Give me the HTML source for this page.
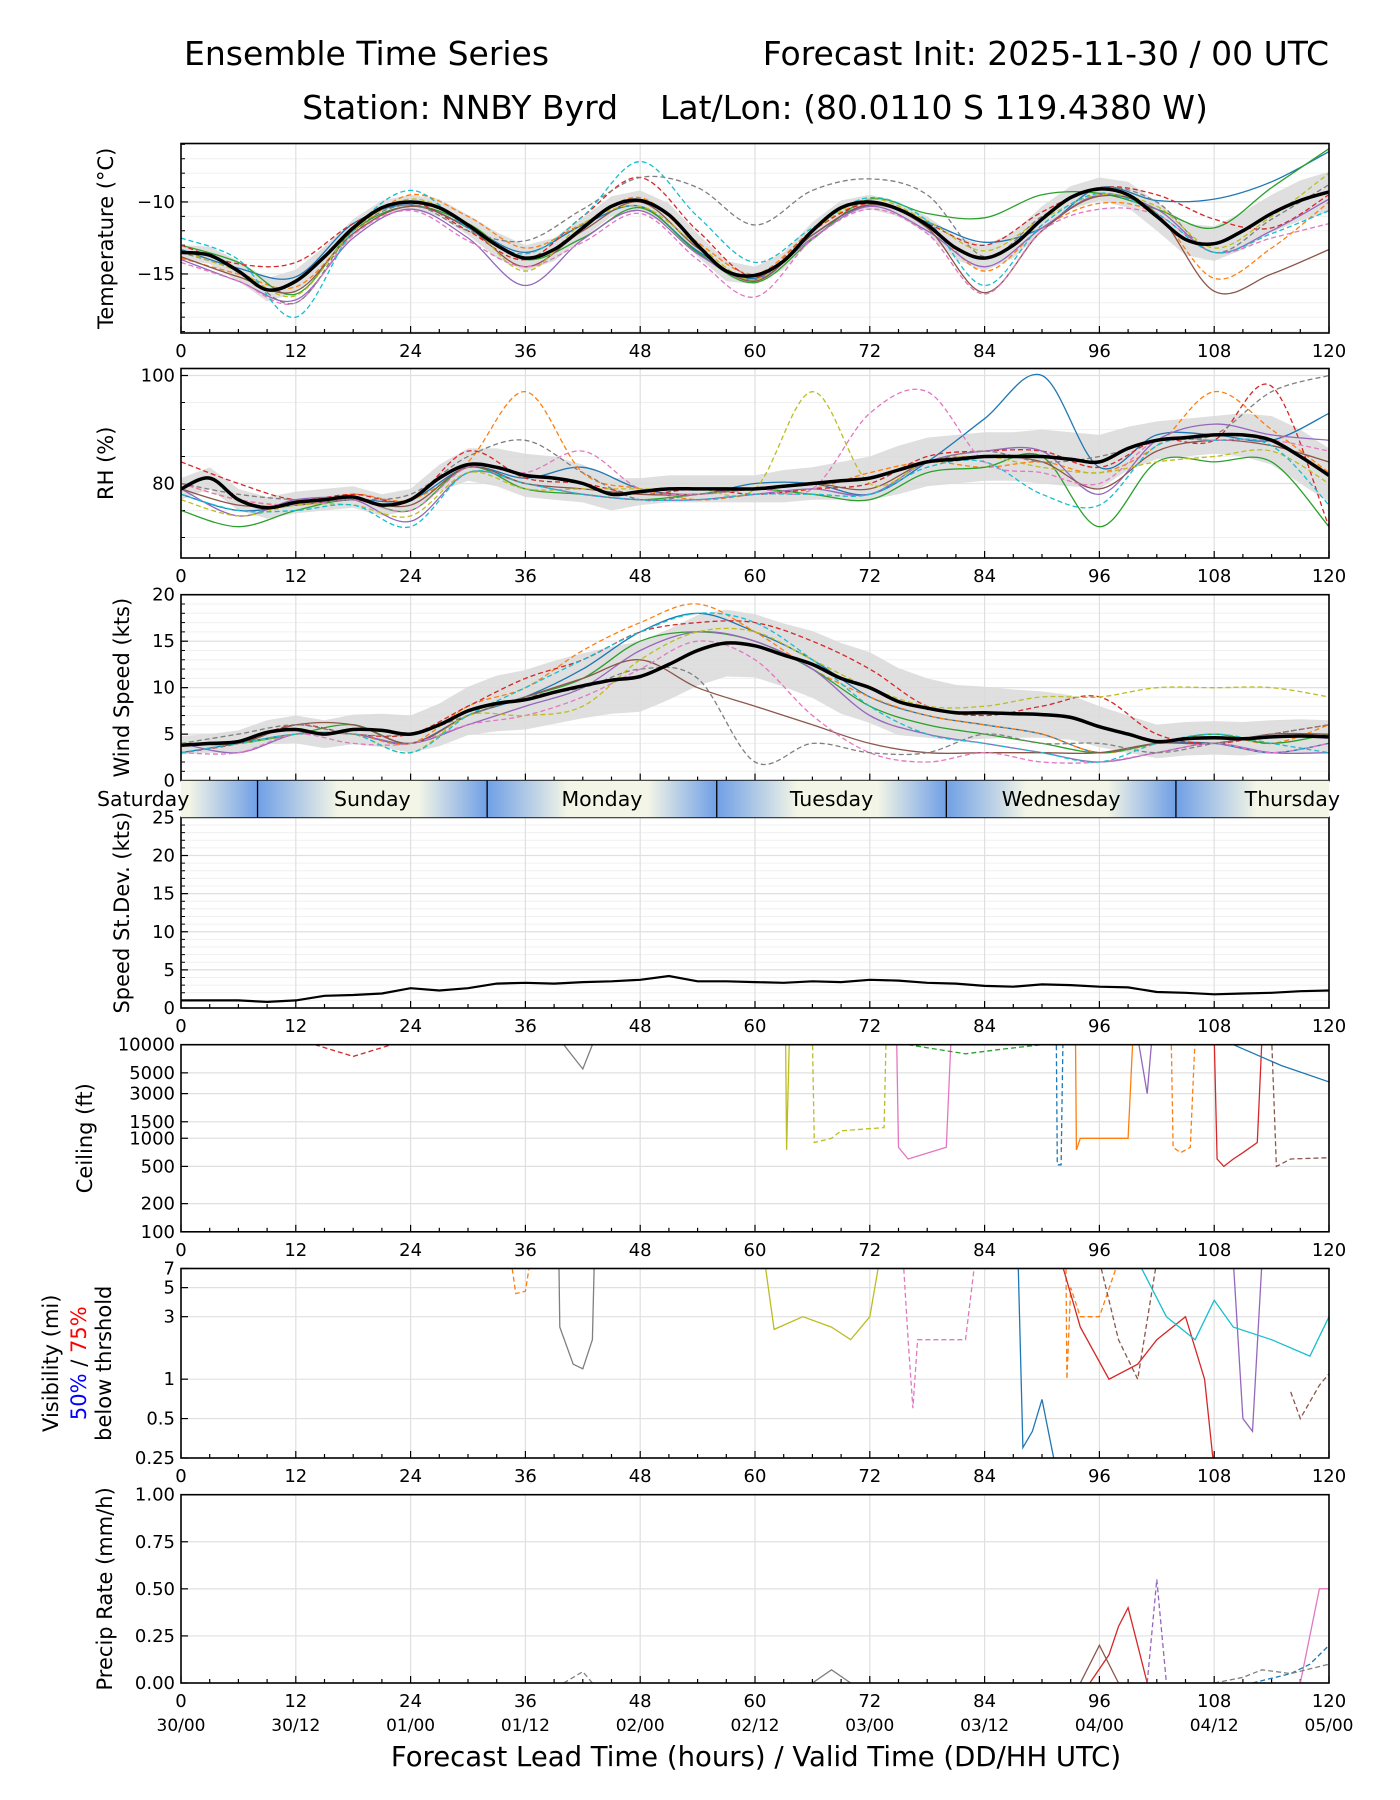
<!DOCTYPE html>
<html><head><meta charset="utf-8"><style>
html,body{margin:0;padding:0;background:#fff}
svg{display:block;font-family:"DejaVu Sans","Liberation Sans",sans-serif}
</style></head><body>
<svg id="c" width="1400" height="1800" viewBox="0 0 1400 1800">
<text x="184" y="65" font-size="33" text-anchor="start">Ensemble Time Series</text>
<text x="1329" y="65" font-size="33" text-anchor="end">Forecast Init: 2025-11-30 / 00 UTC</text>
<text x="755" y="119" font-size="33" text-anchor="middle">Station: NNBY Byrd &#160;&#160; Lat/Lon: (80.0110 S 119.4380 W)</text>
<text x="756" y="1766" font-size="27.5" text-anchor="middle">Forecast Lead Time (hours) / Valid Time (DD/HH UTC)</text>
</svg>
<script>
const hours3=[0,3,6,9,12,15,18,21,24,27,30,33,36,39,42,45,48,51,54,57,60,63,66,69,72,75,78,81,84,87,90,93,96,99,102,105,108,111,114,117,120];
const hours6=[0,6,12,18,24,30,36,42,48,54,60,66,72,78,84,90,96,102,108,114,120];
const tempMean=[-13.5,-13.7,-14.8,-16.1,-15.5,-13.8,-11.8,-10.4,-10.0,-10.4,-11.6,-13.0,-13.9,-13.3,-11.8,-10.3,-9.9,-10.9,-13.0,-14.8,-15.1,-14.1,-12.0,-10.4,-10.0,-10.5,-11.6,-13.2,-13.9,-13.0,-11.2,-9.7,-9.1,-9.5,-11.0,-12.6,-12.9,-12.0,-10.8,-9.9,-9.3];
const tempSpread=[0.5,0.6,0.7,0.8,0.8,0.7,0.6,0.5,0.5,0.6,0.7,0.9,0.9,0.8,0.7,0.7,0.7,0.8,0.8,0.7,0.6,0.6,0.6,0.5,0.5,0.5,0.6,0.8,0.9,0.9,0.9,0.8,0.8,0.9,1.0,1.1,1.2,1.3,1.3,1.4,1.4];
const tempMembers=[
[-13.3,-14.6,-15.2,-11.5,-10.2,-11.7,-13.5,-11.6,-10.3,-13.4,-15.3,-12.3,-10.2,-11.4,-12.8,-11.8,-9.0,-9.9,-9.8,-8.6,-6.5],
[-13.9,-15.0,-15.9,-12.2,-9.5,-11.0,-13.2,-11.5,-9.7,-12.8,-15.0,-12.0,-10.0,-11.5,-14.8,-11.8,-10.1,-10.9,-15.3,-13.2,-10.0],
[-13.0,-14.2,-16.4,-12.0,-10.3,-11.5,-14.0,-12.5,-10.4,-13.5,-15.6,-12.6,-9.8,-10.8,-11.1,-9.5,-9.4,-10.5,-11.8,-9.0,-6.3],
[-13.0,-14.3,-14.2,-11.5,-10.0,-12.0,-14.0,-11.0,-8.3,-12.0,-15.2,-12.0,-10.1,-11.5,-13.0,-10.7,-9.0,-9.5,-11.2,-11.8,-9.5],
[-14.0,-15.5,-16.8,-12.5,-10.5,-12.5,-15.8,-12.6,-10.6,-13.6,-15.4,-12.5,-10.3,-12.0,-14.5,-11.8,-9.5,-10.5,-13.5,-12.0,-9.8],
[-13.8,-15.2,-16.2,-12.2,-10.3,-11.8,-14.5,-12.0,-10.0,-13.2,-15.5,-12.3,-10.2,-11.8,-16.3,-12.0,-9.6,-10.8,-16.2,-15.0,-13.3],
[-14.2,-15.5,-17.0,-12.3,-10.6,-12.7,-14.5,-12.8,-10.8,-14.0,-16.6,-12.6,-10.5,-12.2,-16.4,-12.0,-10.5,-10.9,-13.5,-12.5,-11.5],
[-13.5,-14.8,-17.0,-12.0,-10.2,-12.0,-12.7,-10.5,-8.3,-9.0,-11.6,-9.2,-8.4,-9.5,-13.8,-11.0,-9.0,-10.0,-13.5,-11.2,-8.8],
[-13.4,-14.8,-16.5,-12.0,-9.8,-11.5,-14.8,-11.5,-10.3,-13.0,-15.4,-12.0,-9.8,-11.3,-13.4,-11.2,-9.5,-10.3,-13.2,-11.0,-8.0],
[-12.5,-14.0,-18.0,-12.0,-9.2,-11.8,-13.6,-11.0,-7.2,-11.0,-14.2,-11.8,-9.7,-11.3,-15.8,-11.6,-9.4,-10.8,-13.5,-12.2,-10.6]];
const rhMean=[79,81,77,75.5,76.5,77,77.5,76,77,81,83.5,83,81.5,81,80,78,78.5,79,79,79,79,79.5,80,80.5,81,82.5,84,84.5,85,85,85,84.5,84,86.5,88,88.5,89,89,88,85,81.5];
const rhSpread=[2,2,2,2,2,2,2,2,2,2.5,3,3.5,4,4,3.5,3,2.5,2.5,2.5,2.5,2.5,3,3,3.5,4,4.5,4.5,4.5,4.5,4.5,5,5,5,4,3.5,3.5,3.5,4,4.5,5,5];
const rhMembers=[
[78,75,76,77,77,83,81,83,79,78,80,80,78,84,92,100,83,89,89,88,93],
[80,77,76,78,77,84,97,82,79,77,78,79,82,84,83,84,82,87,97,90,82],
[75,72,75,77,75,83,79,78,77,78,79,78,77,82,83,85,72,84,84,84,72],
[84,80,77,78,77,86,81,80,78,79,78,79,80,85,86,86,83,88,88,98,72],
[79,74,77,77,73,82,80,78,77,77,78,79,78,84,86,86,78,88,91,89,88],
[79,76,76,77,76,83,80,79,78,78,79,80,79,84,85,84,79,86,88,87,84],
[80,77,76,77,75,83,82,86,79,78,79,79,93,97,84,82,80,88,88,88,86],
[80,78,77,77,78,85,88,82,77,78,79,80,81,84,86,84,85,88,89,97,100],
[77,74,76,76,74,82,79,79,79,79,79,97,80,84,85,83,82,84,85,86,80],
[78,75,75,76,72,82,80,78,77,77,78,78,78,83,84,78,76,87,88,87,76]];
const windMean=[3.8,4,4.2,5.2,5.5,5,5.5,5.4,5,6,7.5,8.3,8.7,9.5,10.2,10.8,11.2,12.5,14,14.8,14.5,13.5,12.5,11,10,8.5,7.8,7.3,7.3,7.2,7.1,6.8,5.8,5,4.2,4.5,4.6,4.5,4.7,4.8,4.7];
const windSpread=[1,1,1.2,1.3,1.5,1.5,1.6,1.8,2,2.3,2.6,3,3.2,3.4,3.5,3.6,3.8,3.8,3.8,3.6,3.4,3.4,3.6,3.8,3.8,3.6,3.2,3,2.8,2.6,2.5,2.4,2.2,2,1.8,1.8,1.8,1.8,1.8,1.8,1.8];
const windMembers=[
[3,4,5,5,4,7,9,12,16,18,16,13,9,7,6,5,3,4,4,3,4],
[4,4,5,5,4,8,10,14,17,19,16,12,9,7,6,5,3,4,5,4,6],
[4,4,5,6,4,7,9,11,15,16,15,12,8,6,5,4,3,4,5,4,5],
[3,4,6,5,5,8,11,13,16,17,17,15,12,8,7,8,9,5,4,5,6],
[4,3,5,5,4,6,8,10,14,16,15,12,7,5,4,3,2,3,4,3,3],
[4,4,6,6,4,7,9,11,13,10,8,6,4,3,3,3,3,4,4,5,5],
[3,3,5,4,4,6,7,9,12,15,13,7,3,2,3,2,2,3,4,3,4],
[4,5,6,5,5,7,9,10,12,11,2,4,3,3,5,4,4,3,4,5,6],
[4,4,5,5,3,7,7,8,13,16,16,13,10,8,8,9,9,10,10,10,9],
[3,4,5,5,3,7,10,13,16,18,17,13,8,5,4,3,2,4,5,4,3]];
const sdValues=[1,1,1,0.8,1,1.6,1.7,1.9,2.6,2.3,2.6,3.2,3.3,3.2,3.4,3.5,3.7,4.2,3.5,3.5,3.4,3.3,3.5,3.4,3.7,3.6,3.3,3.2,2.9,2.8,3.1,3.0,2.8,2.7,2.1,2,1.8,1.9,2,2.2,2.3];
const ceilHours=[[63.2,63.3,63.6],[66,66.2,68,69,73.5,73.7],[74.8,75,76,80,80.5],[91.5,91.6,92,92.2],[93.5,93.6,94,99,99.5],[103.5,103.7,104.5,105.5,106],[108,108.3,109,110,111,112.5,113],[114,114.5,116,120],[100,101,101.5],[76,82,86,90],[110,115,120],[14,18,22],[40,42,43]];
const ceilVals=[[12000,750,12000],[12000,900,1000,1200,1300,12000],[12000,800,600,800,12000],[12000,520,520,12000],[12000,750,1000,1000,12000],[12000,800,700,800,12000],[12000,600,500,600,700,900,12000],[12000,500,600,620],[12000,3000,12000],[10000,8000,9000,10000],[10000,6000,4000],[10000,7500,10000],[10000,5500,10000]];
const ceilColors=[8,8,6,0,1,1,3,5,4,2,0,3,7];
const visHours=[[39.5,39.6,41,42,43,43.2],[34.5,35,36,36.5],[61,62,65,68,70,72,73],[75.5,76,76.5,77,82,83],[87.5,88,89,90,91,91.5],[92.5,92.6,93,94,96,98],[92,94,97,100,102,105,107,108],[96,98,100,102],[110,111,112,113],[116,117,119,120],[100,103,106,108,110,114,118,120]];
const visVals=[[8,2.5,1.3,1.2,2,8],[8,4.5,4.7,8],[8,2.4,3,2.5,2,3,8],[8,2,0.6,2,2,8],[8,0.3,0.4,0.7,0.3,0.2],[8,1,5,3,3,8],[8,2.5,1,1.3,2,3,1,0.2],[8,2,1,8],[8,0.5,0.4,8],[0.8,0.5,0.9,1.1],[8,3,2,4,2.5,2,1.5,3]];
const visColors=[7,1,8,6,0,1,3,5,4,5,9];
const prHours=[[95,97,98,99,100,101],[101,102,103],[117,119,120],[112,116,118,120],[94,96,98],[40,42,43],[66,68,70],[108,111,113,116,120]];
const prVals=[[0,0.15,0.3,0.4,0.2,0],[0,0.55,0],[0,0.5,0.5],[0,0.05,0.1,0.2],[0,0.2,0],[0,0.06,0],[0,0.07,0],[0,0.03,0.07,0.05,0.1]];
const prColors=[3,4,6,0,5,7,7,7];
const dayNames=["Saturday","Sunday","Monday","Tuesday","Wednesday","Thursday"];
const dayStarts=[-16,8,32,56,80,104];

const C=["#1f77b4","#ff7f0e","#2ca02c","#d62728","#9467bd","#8c564b","#e377c2","#7f7f7f","#bcbd22","#17becf"];
const dashes=[false,true,false,true,false,false,true,true,true,true];
const svg=document.getElementById('c');
const NS="http://www.w3.org/2000/svg";
const X0=181,X1=1329;
const xs=h=>X0+(X1-X0)*h/120;
const TF=18;
function mk(tag,at,parent){const e=document.createElementNS(NS,tag);for(const k in at)e.setAttribute(k,at[k]);(parent||svg).appendChild(e);return e;}
function smooth(pts){let d="M"+pts[0][0].toFixed(1)+","+pts[0][1].toFixed(1);for(let i=0;i<pts.length-1;i++){const p0=pts[i-1]||pts[i],p1=pts[i],p2=pts[i+1],p3=pts[i+2]||p2;d+=" C"+(p1[0]+(p2[0]-p0[0])/6).toFixed(1)+","+(p1[1]+(p2[1]-p0[1])/6).toFixed(1)+" "+(p2[0]-(p3[0]-p1[0])/6).toFixed(1)+","+(p2[1]-(p3[1]-p1[1])/6).toFixed(1)+" "+p2[0].toFixed(1)+","+p2[1].toFixed(1);}return d;}
function poly(pts){return "M"+pts.map(p=>p[0].toFixed(1)+","+p[1].toFixed(1)).join(" L");}

function panel(o){
  const g=mk('g',{});
  
  
  const cp=mk('clipPath',{id:'cp'+o.name},g);mk('rect',{x:X0,y:o.top,width:X1-X0,height:o.bot-o.top},cp);
  const ys=o.ys;
  (o.minor||[]).forEach(v=>{const y=ys(v);if(y>=o.top&&y<=o.bot){mk('line',{x1:X0,x2:X1,y1:y,y2:y,stroke:'#f0f0f0','stroke-width':1},g);mk('line',{x1:X0,x2:X0+4,y1:y,y2:y,stroke:'#000','stroke-width':1},g);}});
  for(let h=0;h<=120;h+=12){mk('line',{x1:xs(h),x2:xs(h),y1:o.top,y2:o.bot,stroke:'#e0e0e0','stroke-width':1.2},g);}
  o.ticks.forEach((v,i)=>{const y=ys(v);mk('line',{x1:X0,x2:X1,y1:y,y2:y,stroke:'#e0e0e0','stroke-width':1.2},g);mk('line',{x1:X0,x2:X0+7,y1:y,y2:y,stroke:'#000','stroke-width':1.2},g);
    const t=mk('text',{x:X0-6,y:y+6,'font-size':TF,'text-anchor':'end'},g);t.textContent=o.labels[i];
    
    });
  for(let h=0;h<=120;h+=3){const maj=h%12===0;mk('line',{x1:xs(h),x2:xs(h),y1:o.bot,y2:o.bot-(maj?7:4),stroke:'#000','stroke-width':1.2},g);
    if(maj&&o.xlabels){const t=mk('text',{x:xs(h),y:o.bot+24,'font-size':TF,'text-anchor':'middle'},g);t.textContent=h;
      
      }}
  const inner=mk('g',{'clip-path':'url(#cp'+o.name+')'},g);
  o.draw(inner,ys);
  mk('rect',{x:X0,y:o.top,width:X1-X0,height:o.bot-o.top,fill:'none',stroke:'#000','stroke-width':1.6},g);
  o.ylab.forEach(l=>{const t=mk('text',{transform:`translate(${l.x},${(o.top+o.bot)/2}) rotate(-90)`,'font-size':21,'text-anchor':'middle',fill:l.c||'#000'},g);t.innerHTML=l.t;
    
    });
}
function ensemble(g,ys,mean,spread,members,nm){
  const up=hours3.map((h,i)=>[xs(h),ys(mean[i]+spread[i])]),lo=hours3.map((h,i)=>[xs(h),ys(mean[i]-spread[i])]).reverse();
  const b=mk('path',{d:poly(up.concat(lo))+"Z",fill:'#d9d9d9',opacity:0.85},g);
  
  
  members.forEach((m,k)=>{const p=mk('path',{d:smooth(hours6.map((h,i)=>[xs(h),ys(m[i])])),fill:'none',stroke:C[k],'stroke-width':1.3,'stroke-dasharray':dashes[k]?'5,3':'none'},g);
    
    });
  const ml=mk('path',{d:smooth(hours3.map((h,i)=>[xs(h),ys(mean[i])])),fill:'none',stroke:'#000','stroke-width':3.5},g);
  
  
}
function lin(top,bot,lo,hi){return v=>bot-(v-lo)/(hi-lo)*(bot-top);}
function lg(top,bot,lo,hi){return v=>bot-(Math.log10(v)-Math.log10(lo))/(Math.log10(hi)-Math.log10(lo))*(bot-top);}
const rng=(a,b,s)=>{const r=[];for(let v=a;v<=b+1e-9;v+=s)r.push(v);return r;};

panel({name:'temperature-panel',top:143.5,bot:333,ys:lin(143.5,333,-19.1,-5.94),ticks:[-10,-15],labels:['\u221210','\u221215'],minor:rng(-19,-6,1),xlabels:true,ylab:[{x:113,t:'Temperature (°C)'}],
  draw:(g,ys)=>ensemble(g,ys,tempMean,tempSpread,tempMembers,'temp')});
panel({name:'rh-panel',top:368.5,bot:558,ys:lin(368.5,558,66.2,101.3),ticks:[80,100],labels:['80','100'],minor:rng(70,100,5),xlabels:true,ylab:[{x:113,t:'RH (%)'}],
  draw:(g,ys)=>ensemble(g,ys,rhMean,rhSpread,rhMembers,'rh')});
panel({name:'wind-panel',top:594.7,bot:780.6,ys:lin(594.7,780.6,0,20),ticks:[0,5,10,15,20],labels:['0','5','10','15','20'],minor:rng(0,20,1),xlabels:false,ylab:[{x:129,t:'Wind Speed (kts)'}],
  draw:(g,ys)=>ensemble(g,ys,windMean,windSpread,windMembers,'wind')});
panel({name:'speed-stdev-panel',top:817.4,bot:1008,ys:lin(817.4,1008,0,25),ticks:[0,5,10,15,20,25],labels:['0','5','10','15','20','25'],minor:rng(0,25,1),xlabels:true,ylab:[{x:129,t:'Speed St.Dev. (kts)'}],
  draw:(g,ys)=>{const p=mk('path',{d:poly(hours3.map((h,i)=>[xs(h),ys(sdValues[i])])),fill:'none',stroke:'#000','stroke-width':2.2},g);
    
    }});
function segs(g,ys,H,V,cols,nm){H.forEach((hh,k)=>{const p=mk('path',{d:poly(hh.map((h,i)=>[xs(h),ys(V[k][i])])),fill:'none',stroke:C[cols[k]],'stroke-width':1.3,'stroke-dasharray':k%2?'5,3':'none'},g);
  
  });}
panel({name:'ceiling-panel',top:1044.7,bot:1231.8,ys:lg(1044.7,1231.8,100,10000),ticks:[100,200,500,1000,1500,3000,5000,10000],labels:['100','200','500','1000','1500','3000','5000','10000'],minor:[],xlabels:true,ylab:[{x:92,t:'Ceiling (ft)'}],
  draw:(g,ys)=>segs(g,ys,ceilHours,ceilVals,ceilColors,'ceiling')});
panel({name:'visibility-panel',top:1268.5,bot:1458,ys:lg(1268.5,1458,0.25,7),ticks:[0.25,0.5,1,3,5,7],labels:['0.25','0.5','1','3','5','7'],minor:[],xlabels:true,
  ylab:[{x:58,t:'Visibility (mi)'},{x:86,t:'<tspan fill="#0000ff">50%</tspan> / <tspan fill="#ff0000">75%</tspan>'},{x:111,t:'below thrshold'}],
  draw:(g,ys)=>segs(g,ys,visHours,visVals,visColors,'visibility')});
panel({name:'precip-panel',top:1494.7,bot:1683,ys:lin(1494.7,1683,0,1),ticks:[0,0.25,0.5,0.75,1],labels:['0.00','0.25','0.50','0.75','1.00'],minor:[],xlabels:true,ylab:[{x:112,t:'Precip Rate (mm/h)'}],
  draw:(g,ys)=>segs(g,ys,prHours,prVals,prColors,'precip')});
const vt=["30/00","30/12","01/00","01/12","02/00","02/12","03/00","03/12","04/00","04/12","05/00"];
vt.forEach((s,i)=>{const t=mk('text',{x:xs(i*12),y:1731,'font-size':17,'text-anchor':'middle'});t.textContent=s;
  
  });
const defs=mk('defs',{});
const gr=mk('linearGradient',{id:'dg',x1:0,x2:1,y1:0,y2:0},defs);
[[0,'#6f9fe6'],[0.35,'#f3f5e6'],[0.7,'#f3f5e6'],[1,'#6f9fe6']].forEach(s=>mk('stop',{offset:s[0],'stop-color':s[1]},gr));
const cpb=mk('clipPath',{id:'cpb'},defs);mk('rect',{x:X0,y:780.6,width:X1-X0,height:36.8},cpb);
const band=mk('g',{'clip-path':'url(#cpb)'});


dayStarts.forEach((s,i)=>{mk('rect',{x:xs(s),y:780.6,width:xs(24)-xs(0),height:36.8,fill:'url(#dg)'},band);
  if(i>0)mk('line',{x1:xs(s),x2:xs(s),y1:780.6,y2:817.4,stroke:'#000','stroke-width':1.3},band);});
dayNames.forEach((n,i)=>{let cx=xs(dayStarts[i]+12);
  const t=mk('text',{x:cx,y:806,'font-size':20.5,'text-anchor':'middle'});t.textContent=n;
  if(i===0){t.setAttribute('x',97);t.setAttribute('text-anchor','start');}
  if(i===5){t.setAttribute('x',1340);t.setAttribute('text-anchor','end');}
  
  });
</script>
</body></html>
